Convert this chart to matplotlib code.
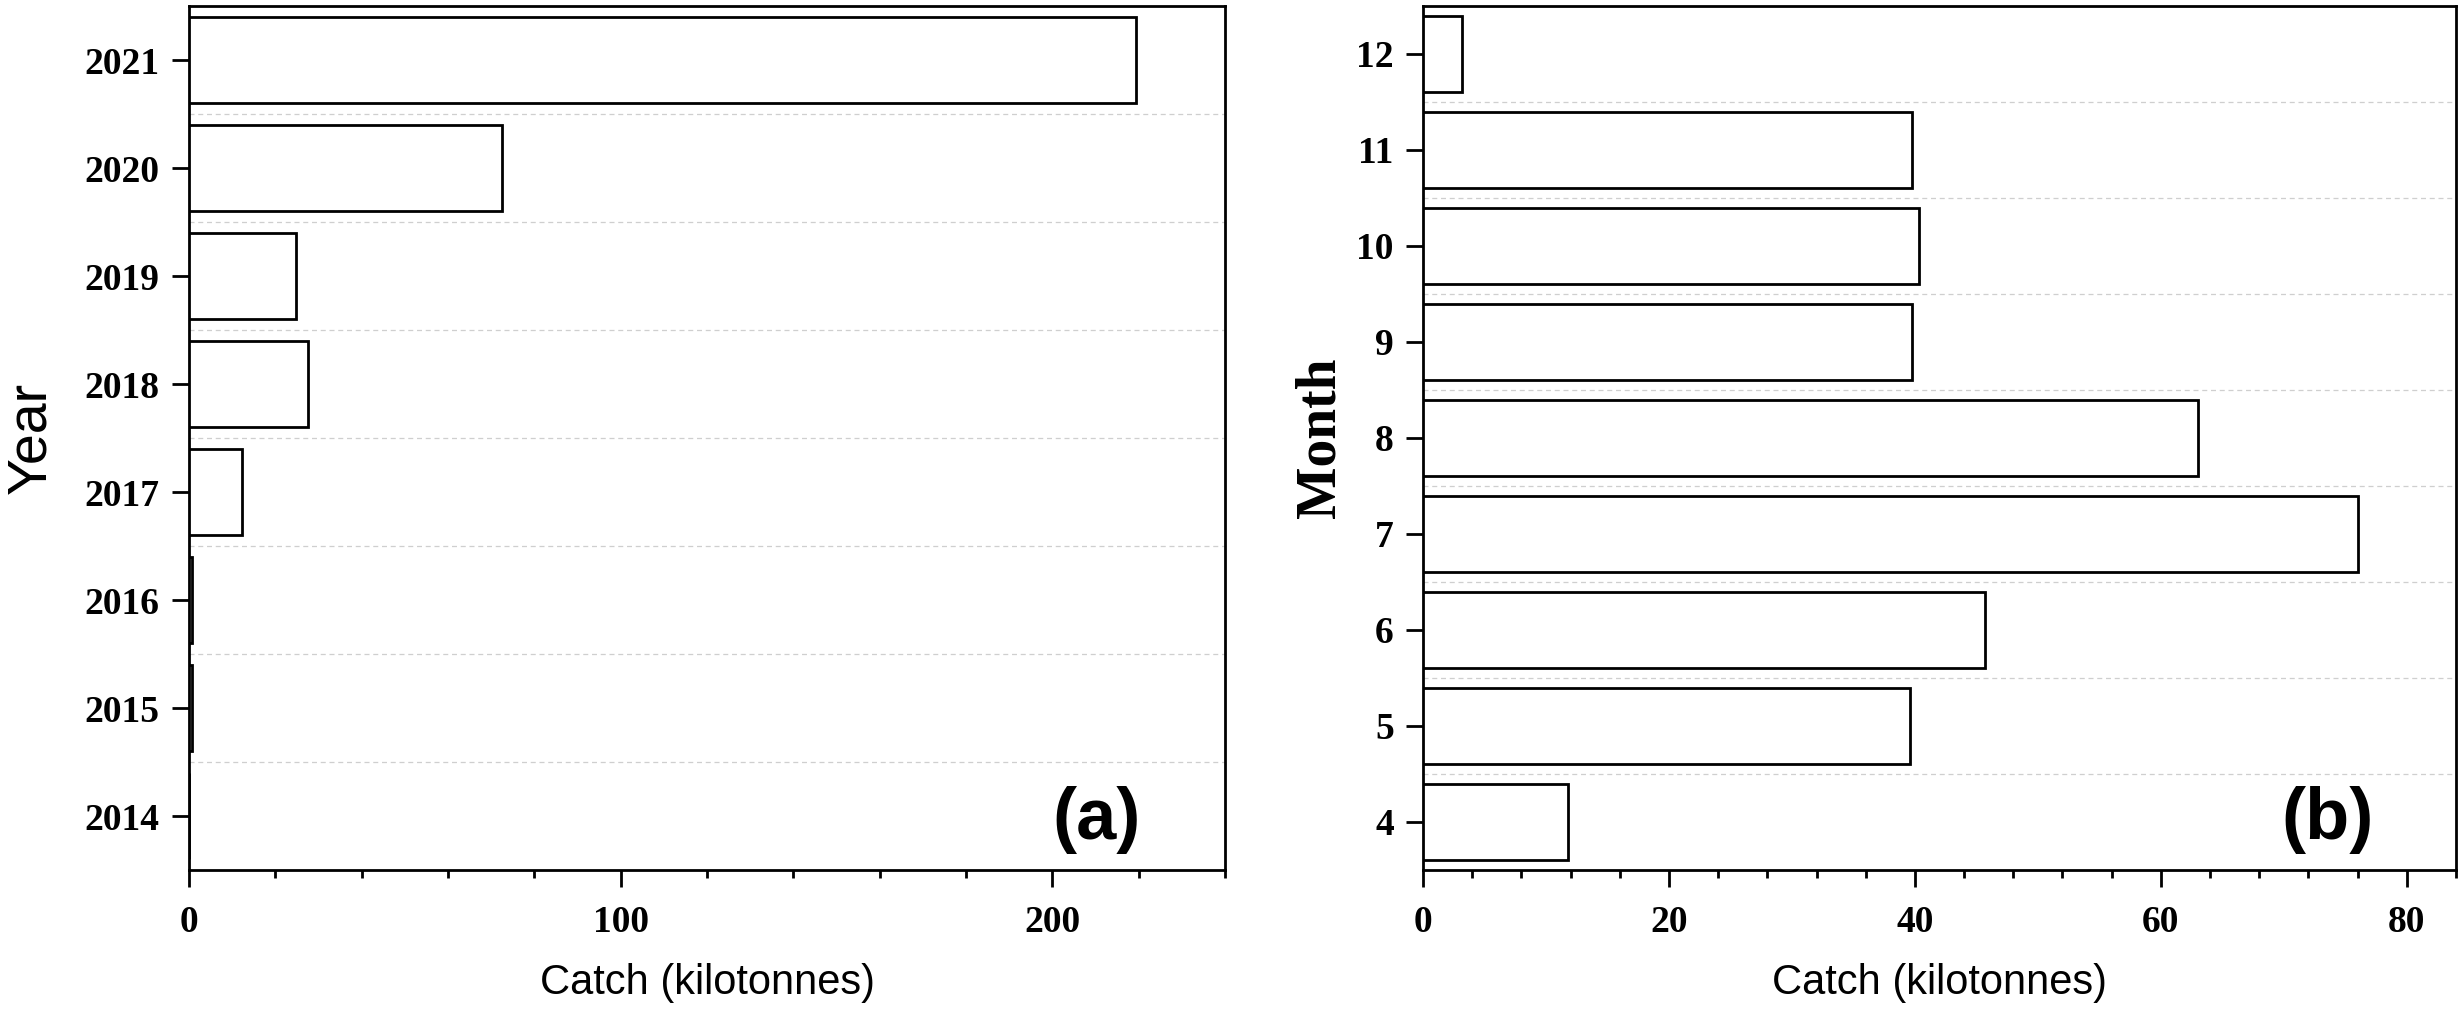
import numpy as np
import matplotlib.pyplot as plt
from matplotlib.ticker import MultipleLocator

years = [2014, 2015, 2016, 2017, 2018, 2019, 2020, 2021]
catch_year = [0.1, 0.6, 0.7, 12.3, 27.5, 24.8, 72.6, 219.4]

months = [4, 5, 6, 7, 8, 9, 10, 11, 12]
catch_month = [11.8, 39.6, 45.7, 76.0, 63.0, 39.8, 40.3, 39.8, 3.2]

plt.rcParams['font.family'] = 'Liberation Serif'
plt.rcParams['font.weight'] = 'bold'
plt.rcParams['font.size'] = 27

W, H = 2462, 1019
fig = plt.figure(figsize=(W / 100, H / 100), dpi=100)
ax1 = fig.add_axes([189 / W, 1 - 870 / H, (1225 - 189) / W, 864 / H])
ax2 = fig.add_axes([1423 / W, 1 - 870 / H, (2456 - 1423) / W, 864 / H])


def style(ax, cats, vals, xmax, major, minor, tag):
    ax.barh(cats, vals, height=0.8, color='white', edgecolor='black', linewidth=2.0, zorder=3)
    ax.set_ylim(cats[0] - 0.5, cats[-1] + 0.5)
    ax.set_xlim(0, xmax)
    ax.set_yticks(cats)
    ax.set_yticks(np.array(cats[:-1]) + 0.5, minor=True)
    ax.xaxis.set_major_locator(MultipleLocator(major))
    ax.xaxis.set_minor_locator(MultipleLocator(minor))
    ax.grid(axis='y', which='minor', color='#cfcfcf', linestyle=(0, (4, 3)), linewidth=0.9, zorder=0)
    ax.tick_params(axis='both', which='major', direction='out', length=12, width=2.0)
    ax.tick_params(axis='x', which='major', pad=13)
    ax.tick_params(axis='y', which='major', pad=9)
    ax.tick_params(axis='x', which='minor', direction='out', length=6, width=2.0)
    ax.tick_params(axis='y', which='minor', length=0)
    for s in ax.spines.values():
        s.set_linewidth(2.0)
    ax.set_xlabel('Catch (kilotonnes)', family='Liberation Sans', fontweight='normal',
                  fontsize=30, labelpad=17)
    ax.text(0.876, 0.036, tag, transform=ax.transAxes, ha='center', va='baseline',
            family=['Liberation Sans Narrow', 'Liberation Sans'], fontweight='bold', fontsize=52)


style(ax1, years, catch_year, 240, 100, 20, '(a)')
style(ax2, months, catch_month, 84, 20, 4, '(b)')

ax1.set_ylabel('Year', family='Liberation Sans', fontweight='normal', fontsize=40, labelpad=20)
ax2.set_ylabel('Month', family='Liberation Serif', fontweight='bold', fontsize=40, labelpad=7)

fig.savefig('out.png', dpi=100)
